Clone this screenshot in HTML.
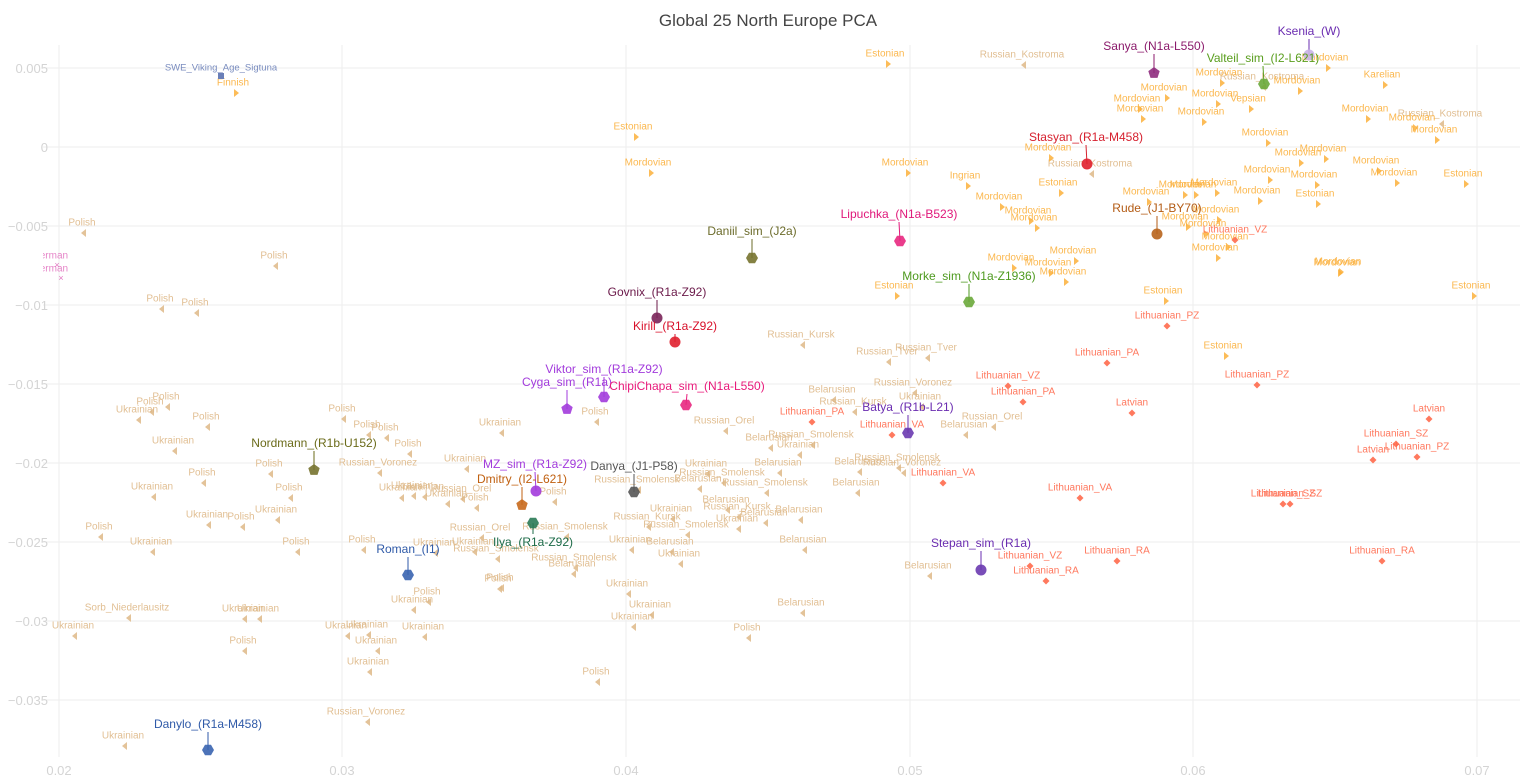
<!DOCTYPE html>
<html><head><meta charset="utf-8"><style>
body{margin:0;background:#fff;}
svg{display:block;font-family:"Liberation Sans",sans-serif;}
</style></head><body>
<svg id="s" width="1536" height="777" viewBox="0 0 1536 777" xmlns="http://www.w3.org/2000/svg">
<defs><clipPath id="c"><rect x="43" y="0" width="1480" height="760"/></clipPath></defs>
<text x="768" y="26" text-anchor="middle" font-size="17" fill="#444">Global 25 North Europe PCA</text>
<g id="grid" stroke="#eee" stroke-width="1"></g>
<g id="ax" font-size="13" fill="#d4d4d4"></g>
<g id="pts" clip-path="url(#c)"></g>
</svg>
<script>
var NS="http://www.w3.org/2000/svg";
function el(p,t,a,txt){var e=document.createElementNS(NS,t);for(var k in a)e.setAttribute(k,a[k]);if(txt!=null)e.textContent=txt;p.appendChild(e);return e;}
var g=document.getElementById('grid'),ax=document.getElementById('ax'),P=document.getElementById('pts');
var xs=[59,342,626,910,1193,1477],xl=["0.02","0.03","0.04","0.05","0.06","0.07"];
xs.forEach(function(x,i){el(g,'line',{x1:x,x2:x,y1:45,y2:757});el(ax,'text',{x:x,y:775,'text-anchor':'middle'},xl[i]);});
var ys=[68,147,226,305,384,463,542,621,700],yl=["0.005","0","−0.005","−0.01","−0.015","−0.02","−0.025","−0.03","−0.035"];
ys.forEach(function(y,i){el(g,'line',{x1:43,x2:1520,y1:y,y2:y});el(ax,'text',{x:48,y:y+5,'text-anchor':'end'},yl[i]);});
var TAN="#deb887",OR="#fbb03b",RD="#ff6a4d";
function ltri(x,y,c){el(P,'polygon',{points:(x-3)+","+y+" "+(x+2)+","+(y-4)+" "+(x+2)+","+(y+4),fill:c,opacity:0.85});}
function rtri(x,y,c){el(P,'polygon',{points:(x+3)+","+y+" "+(x-2)+","+(y-4)+" "+(x-2)+","+(y+4),fill:c,opacity:0.85});}
function dia(x,y,c){el(P,'polygon',{points:x+","+(y-3.5)+" "+(x+3.5)+","+y+" "+x+","+(y+3.5)+" "+(x-3.5)+","+y,fill:c,opacity:0.9});}
function lab(t,x,y,c,fs){el(P,'text',{x:x,y:y+3.5,'text-anchor':'middle','font-size':fs||10,fill:c,opacity:0.9},t);}
var tan=[["Polish",82,222],["Polish",274,255],["Polish",160,298],["Polish",195,302],
["Polish",166,396],["Polish",150,401],["Ukrainian",137,409],["Polish",206,416],["Ukrainian",173,440],["Polish",342,408],["Polish",367,424],["Polish",385,427],["Polish",408,443],["Ukrainian",500,422],["Ukrainian",465,458],["Polish",269,463],["Polish",202,472],["Ukrainian",152,486],["Polish",289,487],["Russian_Voronez",378,462],["Ukrainian",412,485],["Ukrainian",423,486],["Russian_Orel",461,488],["Ukrainian",446,493],["Polish",475,497],["Ukrainian",400,487],["Ukrainian",207,514],["Polish",241,516],["Ukrainian",276,509],["Polish",99,526],["Ukrainian",151,541],["Polish",296,541],["Polish",362,539],["Ukrainian",434,542],["Ukrainian",473,541],["Polish",500,577],["Polish",427,591],["Ukrainian",412,599],["Sorb_Niederlausitz",127,607],["Ukrainian",258,608],["Ukrainian",73,625],["Ukrainian",367,624],["Ukrainian",423,626],["Russian_Orel",480,527],["Russian_Smolensk",565,526],["Polish",553,491],["Polish",595,411],["Russian_Smolensk",574,557],["Belarusian",572,563],["Russian_Smolensk",496,548],
["Belarusian",832,389],["Russian_Voronez",913,382],["Ukrainian",920,396],["Russian_Kursk",853,401],["Russian_Orel",724,420],["Belarusian",769,437],["Russian_Smolensk",811,434],["Ukrainian",798,444],["Russian_Orel",992,416],["Belarusian",964,424],["Ukrainian",706,463],["Belarusian",778,462],["Russian_Smolensk",897,457],["Belarusian",858,461],["Russian_Voronez",902,462],["Russian_Smolensk",722,472],["Belarusian",698,478],["Russian_Smolensk",765,482],["Belarusian",856,482],["Russian_Smolensk",637,479],["Belarusian",726,499],["Russian_Kursk",737,506],["Belarusian",799,509],["Ukrainian",671,508],["Belarusian",764,512],["Ukrainian",737,518],["Russian_Kursk",647,516],["Russian_Smolensk",686,524],["Ukrainian",630,539],["Belarusian",670,541],["Belarusian",803,539],["Ukrainian",679,553],["Belarusian",928,565],["Ukrainian",627,583],["Ukrainian",650,604],["Ukrainian",632,616],["Belarusian",801,602],["Polish",747,627],["Polish",596,671],
["Russian_Kursk",801,334],["Russian_Tver",887,351],["Russian_Tver",926,347],["Ukrainian",123,735],["Russian_Voronez",366,711],["Polish",243,640],["Ukrainian",368,661],["Ukrainian",376,640],["Ukrainian",346,625],["Polish",498,578],["Ukrainian",243,608],
["Russian_Kostroma",1022,54],["Russian_Kostroma",1262,76],["Russian_Kostroma",1440,113],["Russian_Kostroma",1090,163]];
tan.forEach(function(d){lab(d[0],d[1],d[2],TAN);ltri(d[1]+2,d[2]+11,TAN);});
var org=[["Estonian",633,126],["Mordovian",648,162],["Estonian",885,53],["Mordovian",905,162],["Estonian",894,285],["Estonian",1163,290],["Estonian",1223,345],["Estonian",1471,285],["Mordovian",1337,262],["Finnish",233,82],
["Mordovian",1164,87],["Mordovian",1137,98],["Mordovian",1140,108],["Mordovian",1219,72],["Mordovian",1215,93],["Vepsian",1248,98],["Mordovian",1201,111],["Mordovian",1297,80],["Karelian",1382,74],["Mordovian",1365,108],["Mordovian",1412,117],["Mordovian",1434,129],["Mordovian",1325,57],["Mordovian",1265,132],["Mordovian",1298,152],["Mordovian",1323,148],["Mordovian",1376,160],["Mordovian",1267,169],["Mordovian",1314,174],["Mordovian",1394,172],["Estonian",1463,173],["Estonian",1315,193],["Mordovian",1257,190],["Mordovian",1214,182],["Mordovian",1193,184],["Mordovian",1182,184],["Mordovian",1146,191],["Mordovian",1216,209],["Mordovian",1185,216],["Mordovian",1203,223],["Mordovian",1225,236],["Mordovian",1215,247],["Mordovian",1338,261],["Mordovian",1073,250],["Mordovian",1011,257],["Mordovian",1048,262],["Mordovian",1063,271],["Mordovian",1028,210],["Mordovian",1034,217],["Mordovian",999,196],["Estonian",1058,182],["Ingrian",965,175],["Mordovian",1048,147]];
org.forEach(function(d){lab(d[0],d[1],d[2],OR);rtri(d[1]+3,d[2]+11,OR);});
var red=[["Lithuanian_PA",812,411],["Lithuanian_VA",892,424],["Lithuanian_PA",1023,391],["Lithuanian_VZ",1008,375],["Lithuanian_VA",943,472],["Lithuanian_VA",1080,487],["Lithuanian_VZ",1030,555],["Lithuanian_RA",1046,570],["Lithuanian_PA",1107,352],["Latvian",1132,402],["Lithuanian_PZ",1167,315],["Lithuanian_PZ",1257,374],["Latvian",1429,408],["Lithuanian_SZ",1396,433],["Latvian",1373,449],["Lithuanian_PZ",1417,446],["Lithuanian_SZ",1283,493],["Lithuanian_SZ",1290,493],["Lithuanian_RA",1117,550],["Lithuanian_RA",1382,550],["Lithuanian_VZ",1235,229]];
red.forEach(function(d){lab(d[0],d[1],d[2],RD);dia(d[1],d[2]+11,RD);});
lab("German",50,255,"#e377c2");lab("German",50,268,"#e377c2");
el(P,'text',{x:57,y:268,'font-size':9,fill:'#e377c2','text-anchor':'middle'},"×");el(P,'text',{x:61,y:281,'font-size':9,fill:'#e377c2','text-anchor':'middle'},"×");
lab("SWE_Viking_Age_Sigtuna",221,67,"#6a7fb8",9.5);el(P,'rect',{x:218,y:73,width:6,height:6,fill:"#6a7fb8"});
function poly(n,x,y,r,c,rot){var p=[];for(var i=0;i<n;i++){var a=rot+i*2*Math.PI/n;p.push((x+r*Math.cos(a)).toFixed(1)+","+(y+r*Math.sin(a)).toFixed(1));}el(P,'polygon',{points:p.join(" "),fill:c,opacity:0.9});}
var named=[["Ksenia_(W)",1309,31,1309,55,"#6a2cb0","#c9b3e6","c"],
["Sanya_(N1a-L550)",1154,46,1154,73,"#8b1a6b","#8e2b7d","p"],
["Valteil_sim_(I2-L621)",1263,58,1264,84,"#5a9e1e","#6aa83a","h"],
["Stasyan_(R1a-M458)",1086,137,1087,164,"#d6202e","#e0202e","c"],
["Lipuchka_(N1a-B523)",899,214,900,241,"#e0187a","#e8287f","h"],
["Rude_(J1-BY70)",1157,208,1157,234,"#b35b14","#b8641c","c"],
["Daniil_sim_(J2a)",752,231,752,258,"#6b6b2a","#77732f","h"],
["Morke_sim_(N1a-Z1936)",969,276,969,302,"#4e9a1f","#6aa83a","h"],
["Govnix_(R1a-Z92)",657,292,657,318,"#6b1a4a","#7a2359","c"],
["Kirill_(R1a-Z92)",675,326,675,342,"#d8102a","#e0202e","c"],
["Viktor_sim_(R1a-Z92)",604,369,604,397,"#a23bdc","#a23bdc","h"],
["Cyga_sim_(R1a)",567,382,567,409,"#a23bdc","#a23bdc","p"],
["ChipiChapa_sim_(N1a-L550)",687,386,686,405,"#e8197a","#e8287f","h"],
["Batya_(R1b-L21)",908,407,908,433,"#6a2cb0","#6a3ab0","h"],
["Nordmann_(R1b-U152)",314,443,314,470,"#6b6b1a","#77732f","p"],
["MZ_sim_(R1a-Z92)",535,464,536,491,"#a23bdc","#a23bdc","c"],
["Danya_(J1-P58)",634,466,634,492,"#555","#555","h"],
["Dmitry_(I2-L621)",522,479,522,505,"#c06010","#c8691c","p"],
["Ilya_(R1a-Z92)",533,542,533,523,"#1d6b48","#2a7a55","h"],
["Roman_(I1)",408,549,408,575,"#2f5aa8","#3a64b0","h"],
["Stepan_sim_(R1a)",981,543,981,570,"#6a2cb0","#6a3ab0","c"],
["Danylo_(R1a-M458)",208,724,208,750,"#2f5aa8","#3a64b0","h"]];
named.forEach(function(d){
 var ly=d[4]>d[2]?d[2]+8:d[2]-8;
 el(P,'line',{x1:d[1],y1:ly,x2:d[3],y2:d[4],stroke:d[5],'stroke-width':1});
 if(d[7]=="c")el(P,'circle',{cx:d[3],cy:d[4],r:5.5,fill:d[6],opacity:0.9});
 else if(d[7]=="p")poly(5,d[3],d[4],6,d[6],-Math.PI/2);
 else poly(6,d[3],d[4],6,d[6],0);
 el(P,'text',{x:d[1],y:d[2]+4,'text-anchor':'middle','font-size':12,fill:d[5]},d[0]);
});
</script>
</body></html>
